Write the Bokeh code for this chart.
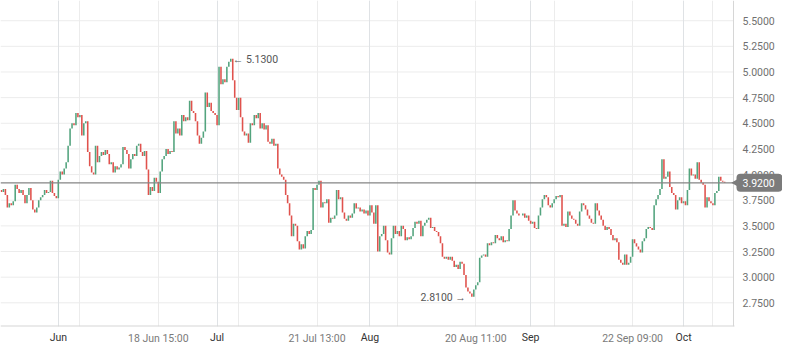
from bokeh.plotting import figure
from bokeh.models import (ColumnDataSource, Range1d, FixedTicker, Span, Grid, LinearAxis,
                          NumeralTickFormatter, Quad)
from bokeh.core.properties import value
from bokeh.embed import file_html
from bokeh.resources import INLINE

# ---------------- data (closing prices per bar) ----------------
close_jun_jul = [
    3.83, 3.86, 3.80, 3.68, 3.72, 3.70, 3.74, 3.90, 3.86, 3.82,
    3.85, 3.80, 3.72, 3.80, 3.87, 3.75, 3.66, 3.63, 3.68, 3.75,
    3.78, 3.80, 3.85, 3.82, 3.83, 3.94, 3.82, 3.79, 3.77, 3.95,
    4.03, 4.00, 4.06, 4.12, 4.28, 4.45, 4.50, 4.48, 4.60, 4.56,
    4.58, 4.38, 4.50, 4.52, 4.22, 4.08, 4.02, 4.00, 4.28, 4.12,
    4.18, 4.22, 4.19, 4.24, 4.20, 4.10, 4.12, 4.02, 4.08, 4.05,
    4.07, 4.10, 4.27, 4.24, 4.20, 4.06, 4.15, 4.20, 4.18, 4.28,
    4.30, 4.22, 4.18, 4.23, 4.05, 3.80, 3.88, 3.84, 3.97, 3.93,
    3.82, 4.03, 4.15, 4.18, 4.25, 4.20, 4.23, 4.22, 4.52, 4.40,
    4.45, 4.38, 4.58, 4.52, 4.56, 4.53, 4.72, 4.62, 4.60, 4.52,
    4.38, 4.30, 4.36, 4.42, 4.80, 4.66, 4.70, 4.62, 4.60, 4.58,
    4.48, 5.05, 4.88, 4.93, 4.90, 5.05, 5.10, 5.13, 4.92, 4.75,
    4.63, 4.75, 4.56, 4.42, 4.38, 4.40, 4.31, 4.50, 4.48, 4.58,
    4.55, 4.60,
]
close_jul_aug = [
    4.45, 4.50, 4.44, 4.48, 4.32, 4.30, 4.35, 4.28, 4.30, 4.06,
    4.00, 3.98, 3.95, 3.80, 3.72, 3.60, 3.40, 3.52, 3.50, 3.35,
    3.27, 3.32, 3.28, 3.40, 3.45, 3.42, 3.46, 3.87, 3.85, 3.90,
    3.94, 3.68, 3.73, 3.72, 3.76, 3.53, 3.58, 3.57, 3.60, 3.85,
    3.76, 3.78, 3.63, 3.57, 3.55, 3.60, 3.58, 3.62, 3.72, 3.67,
    3.68, 3.64, 3.66, 3.62, 3.65, 3.60, 3.70, 3.63, 3.52, 3.70,
    3.25, 3.40, 3.42, 3.50, 3.36, 3.24, 3.22, 3.38, 3.50, 3.42,
    3.45, 3.40, 3.50, 3.47, 3.36, 3.39, 3.37, 3.40, 3.48, 3.54,
    3.52, 3.55, 3.40, 3.50, 3.53, 3.56, 3.58, 3.48, 3.49, 3.45,
    3.44, 3.40, 3.33, 3.20, 3.18, 3.20, 3.17, 3.20, 3.16, 3.10,
    3.12, 3.08, 3.15, 3.13, 3.02, 2.90, 2.86, 2.84, 2.81, 2.88,
    2.92, 2.95, 3.19, 3.21, 3.22, 3.20, 3.33, 3.31, 3.34, 3.33,
    3.41, 3.38, 3.36, 3.40, 3.34, 3.36, 3.35, 3.47, 3.60, 3.75,
    3.65, 3.62, 3.60, 3.60,
]
close_sep_oct = [
    3.62, 3.58, 3.60, 3.55, 3.52, 3.54, 3.48, 3.47, 3.60, 3.68,
    3.76, 3.80, 3.78, 3.70, 3.68, 3.72, 3.76, 3.79, 3.78, 3.80,
    3.50, 3.52, 3.49, 3.64, 3.60, 3.57, 3.56, 3.52, 3.50, 3.64,
    3.72, 3.70, 3.66, 3.60, 3.57, 3.53, 3.52, 3.72, 3.65, 3.60,
    3.56, 3.50, 3.46, 3.49, 3.47, 3.41, 3.36, 3.38, 3.34, 3.17,
    3.14, 3.12, 3.22, 3.12, 3.14, 3.20, 3.37, 3.33, 3.30, 3.27,
    3.24, 3.35, 3.38, 3.47, 3.49, 3.48, 3.46, 3.70, 3.76, 3.80,
    3.86, 4.15, 3.96, 3.98, 4.03, 3.88, 3.82, 3.80, 3.66, 3.75,
    3.78, 3.72, 3.74, 3.70, 3.85, 4.06, 3.99, 4.00, 3.96, 4.12,
    3.95, 3.92, 3.90, 3.68, 3.78, 3.74, 3.72, 3.70, 3.82, 3.84,
    3.98, 3.94, 3.93, 3.92, 3.92,
]
first_open = 3.85
last_price = 3.92

# x-axis ticks (bar index) and their labels
tick_index = [29, 40, 80, 110, 121, 161, 188, 202, 242, 270, 282, 322, 348, 363]
tick_labels = ["Jun", "", "18 Jun 15:00", "Jul", "", "21 Jul 13:00", "Aug", "",
               "20 Aug 11:00", "Sep", "", "22 Sep 09:00", "Oct", ""]
month_labels = ["Jun", "Jul", "Aug", "Sep", "Oct"]
y_ticks = [2.75, 3.0, 3.25, 3.5, 3.75, 4.0, 4.25, 4.5, 4.75, 5.0, 5.25, 5.5]

# ---------------- build candles ----------------
close = close_jun_jul + close_jul_aug + close_sep_oct
n = len(close)
opens = [first_open] + close[:-1]
UP, DOWN = "#53a47e", "#e0524d"
src = ColumnDataSource(dict(
    x=list(range(n)),
    bottom=[min(o, c) for o, c in zip(opens, close)],
    top=[max(o, c) for o, c in zip(opens, close)],
    color=[UP if c >= o else DOWN for o, c in zip(opens, close)],
))

W, H = 782, 347
PLOT_W, FRAME_H = 733, 327          # price area width, frame height
X0, X1 = -0.5, 373.5                # price area in bar-index units
px_x = PLOT_W / (X1 - X0)
XE = X0 + W / px_x                  # frame spans the whole width (price scale inside it)
Y0, Y1 = 2.519, 5.697
px_y = FRAME_H / (Y1 - Y0)
FONT = "Roboto"
FS = "10.5px"
AXIS_C = "#d6d6d6"
GRID_C = "#ececec"

p = figure(width=W, height=H, x_range=Range1d(X0, XE), y_range=Range1d(Y0, Y1),
           output_backend="svg", toolbar_location=None, y_axis_location="right",
           min_border_left=0, min_border_top=0, min_border_right=0,
           min_border_bottom=H - FRAME_H)
p.outline_line_color = None
p.background_fill_color = "white"


def plain(ax):
    ax.major_tick_out = 0
    ax.major_tick_in = 0
    ax.minor_tick_out = 0
    ax.minor_tick_in = 0
    ax.major_label_text_font = FONT
    ax.major_label_text_font_size = FS


# vertical grid
p.xgrid.ticker = FixedTicker(ticks=tick_index)
p.xgrid.grid_line_color = GRID_C
month_idx = [i for i, t in zip(tick_index, tick_labels) if t in month_labels]
p.add_layout(Grid(dimension=0, ticker=FixedTicker(ticks=month_idx), grid_line_color="#dfe2e5"))
# horizontal grid stops at the price scale
p.ygrid.visible = False
p.segment(x0=[X0] * len(y_ticks), x1=[X1] * len(y_ticks), y0=y_ticks, y1=y_ticks,
          line_color=GRID_C, line_width=1, level="underlay")

# y axis: labels drawn back into the price-scale strip
yax = p.yaxis[0]
yax.ticker = FixedTicker(ticks=y_ticks)
yax.formatter = NumeralTickFormatter(format="0.0000")
plain(yax)
yax.major_label_standoff = -(W - PLOT_W) + 9
yax.axis_line_color = None
yax.major_label_text_color = "#707070"
p.add_layout(Span(location=X1, dimension="height", line_color=AXIS_C, line_width=1))

# x axis (below): grey date/time labels
xax = p.xaxis[0]
xax.ticker = FixedTicker(ticks=tick_index)
xax.major_label_overrides = {i: ("" if t in month_labels else t) for i, t in zip(tick_index, tick_labels)}
plain(xax)
xax.major_label_standoff = 5
xax.axis_line_color = None
xax.major_label_text_color = "#7a7a7a"
p.segment(x0=[X0], x1=[X1 + 1 / px_x], y0=[Y0], y1=[Y0], line_color=AXIS_C, line_width=2)

# second x axis: darker month names, on the same row
month_ax = LinearAxis(ticker=FixedTicker(ticks=month_idx),
                      major_label_overrides={i: t for i, t in zip(tick_index, tick_labels) if t in month_labels},
                      axis_line_color=None, major_label_text_color="#333333",
                      major_label_standoff=-17)
plain(month_ax)
p.add_layout(month_ax, "below")

# candles
p.vbar(x="x", bottom="bottom", top="top", width=0.8, fill_color="color",
       line_color=None, source=src)

# last price line
p.segment(x0=[X0], x1=[X1], y0=[last_price], y1=[last_price], line_color="#858585",
          line_width=1.3)

# last price tag (drawn above the scale labels)
TAG_C = "#7b7b7b"
tag = p.quad(left=[X1 + 3 / px_x], right=[XE], bottom=[last_price - 9 / px_y],
             top=[last_price + 9 / px_y], fill_color=TAG_C, line_color=None, level="overlay")
if "border_radius" in Quad.properties():
    tag.glyph.border_radius = 4
p.scatter(x=[X1 + 3 / px_x], y=[last_price], marker="triangle", angle=1.5708, size=9,
          fill_color=TAG_C, line_color=None, level="overlay")
p.text(x=[X1 + 9 / px_x], y=[last_price], text=[f"{last_price:.4f}"], text_color="white",
       text_baseline="middle", text_align="left", text_font=value(FONT),
       text_font_size=FS, level="overlay")

# high / low annotations
imax = max(range(n), key=lambda i: close[i])
imin = min(range(n), key=lambda i: close[i])
p.text(x=[imax], y=[close[imax]], text=[f"\u2190 {close[imax]:.4f}"], x_offset=2, y_offset=1,
       text_baseline="middle", text_align="left", text_color="#555555",
       text_font=value(FONT), text_font_size=FS)
p.text(x=[imin], y=[close[imin]], text=[f"{close[imin]:.4f} \u2192"], x_offset=-6, y_offset=1,
       text_baseline="middle", text_align="right", text_color="#555555",
       text_font=value(FONT), text_font_size=FS)

open("out.html", "w").write(file_html(p, INLINE))
